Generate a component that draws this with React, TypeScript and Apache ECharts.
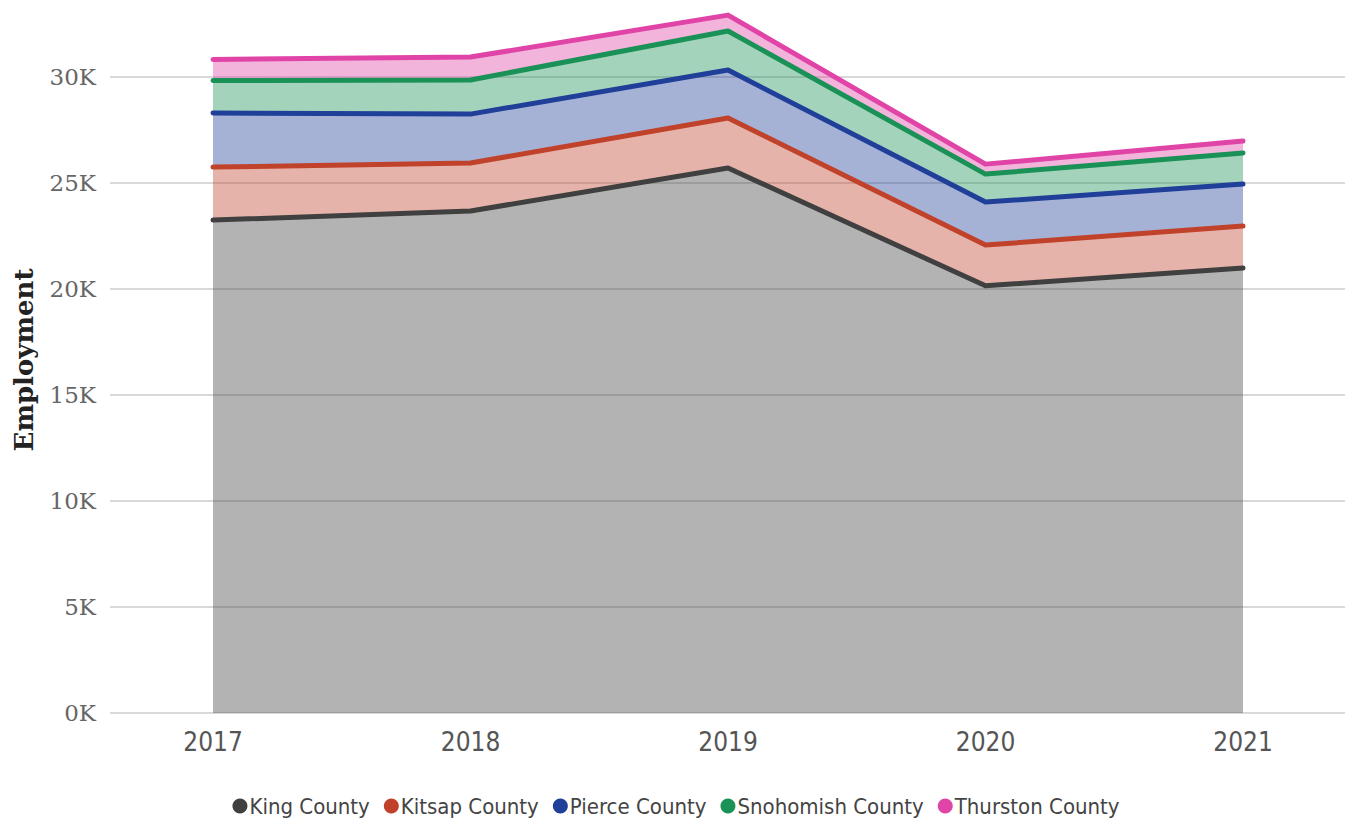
import React, { useEffect, useRef } from "react";
import * as echarts from "echarts";

const years = ["2017", "2018", "2019", "2020", "2021"];
const seriesNames = ["King County", "Kitsap County", "Pierce County", "Snohomish County", "Thurston County"];
const kingValues = [23250, 23680, 25710, 20150, 20990];
const kitsapValues = [2500, 2260, 2360, 1920, 1980];
const pierceValues = [2550, 2310, 2260, 2030, 1980];
const snohomishValues = [1530, 1610, 1840, 1320, 1470];
const thurstonValues = [1000, 1080, 750, 470, 560];
const yTickMax = 30000;
const yTickStep = 5000;
const colors = ["#404040", "#c0422b", "#1f3f99", "#1a9156", "#e044a7"];

const allValues = [kingValues, kitsapValues, pierceValues, snohomishValues, thurstonValues];

export default function App() {
  const ref = useRef<HTMLDivElement>(null);
  useEffect(() => {
    if (!ref.current) return;
    const chart = echarts.init(ref.current, null, { renderer: "svg" });
    const pxPerK = (713 - 77) / 30;
    const dataMax = 33000;
    const dataTop = 713 - (dataMax / 1000) * pxPerK;
    chart.setOption({
      animation: false,
      color: colors,
      grid: [
        { left: 110, right: 7, top: 77, bottom: 110 },
        { left: 213, right: 109, top: dataTop, bottom: 110 },
      ],
      legend: {
        left: "center",
        top: 790,
        icon: "circle",
        itemWidth: 15,
        itemHeight: 15,
        itemGap: 14,
        textStyle: { fontFamily: "DejaVu Sans Condensed, DejaVu Sans", fontSize: 22, color: "#444", padding: [0, 0, 0, -3] },
        data: seriesNames,
      },
      xAxis: [
        { type: "value", gridIndex: 0, show: false, min: 0, max: 1 },
        {
          type: "category",
          gridIndex: 1,
          data: years,
          boundaryGap: false,
          axisLine: { show: false },
          axisTick: { show: false },
          splitLine: { show: false },
          axisLabel: {
            fontFamily: "DejaVu Sans Condensed, DejaVu Sans",
            fontSize: 26,
            color: "#555",
            margin: 16,
          },
        },
      ],
      yAxis: [
        {
          type: "value",
          gridIndex: 0,
          min: 0,
          max: yTickMax,
          interval: yTickStep,
          axisLine: { show: false },
          axisTick: { show: false },
          splitLine: { lineStyle: { color: "#d9d9d9", width: 2 } },
          axisLabel: {
            formatter: (v: number) => `${v / 1000}K`,
            fontFamily: "DejaVu Serif",
            fontSize: 23,
            color: "#666",
            margin: 14,
          },
        },
        {
          type: "value",
          gridIndex: 1,
          min: 0,
          max: dataMax,
          show: false,
          splitLine: { show: false },
        },
      ],
      graphic: [
        {
          type: "text",
          x: 24,
          y: 360,
          rotation: Math.PI / 2,
          style: {
            text: "Employment",
            fontFamily: "DejaVu Serif",
            fontWeight: "bold",
            fontSize: 26,
            fill: "#222",
            align: "center",
            verticalAlign: "middle",
          },
        },
      ],
      series: seriesNames.map((name, si) => ({
        name,
        type: "line",
        xAxisIndex: 1,
        yAxisIndex: 1,
        stack: "total",
        symbol: "none",
        lineStyle: { width: 5, color: colors[si], cap: "round", join: "round" },
        areaStyle: { color: colors[si], opacity: 0.4 },
        data: allValues[si],
      })),
    });
    return () => chart.dispose();
  }, []);
  return <div ref={ref} style={{ width: 1352, height: 823, position: "absolute", left: 0, top: 0 }} />;
}
